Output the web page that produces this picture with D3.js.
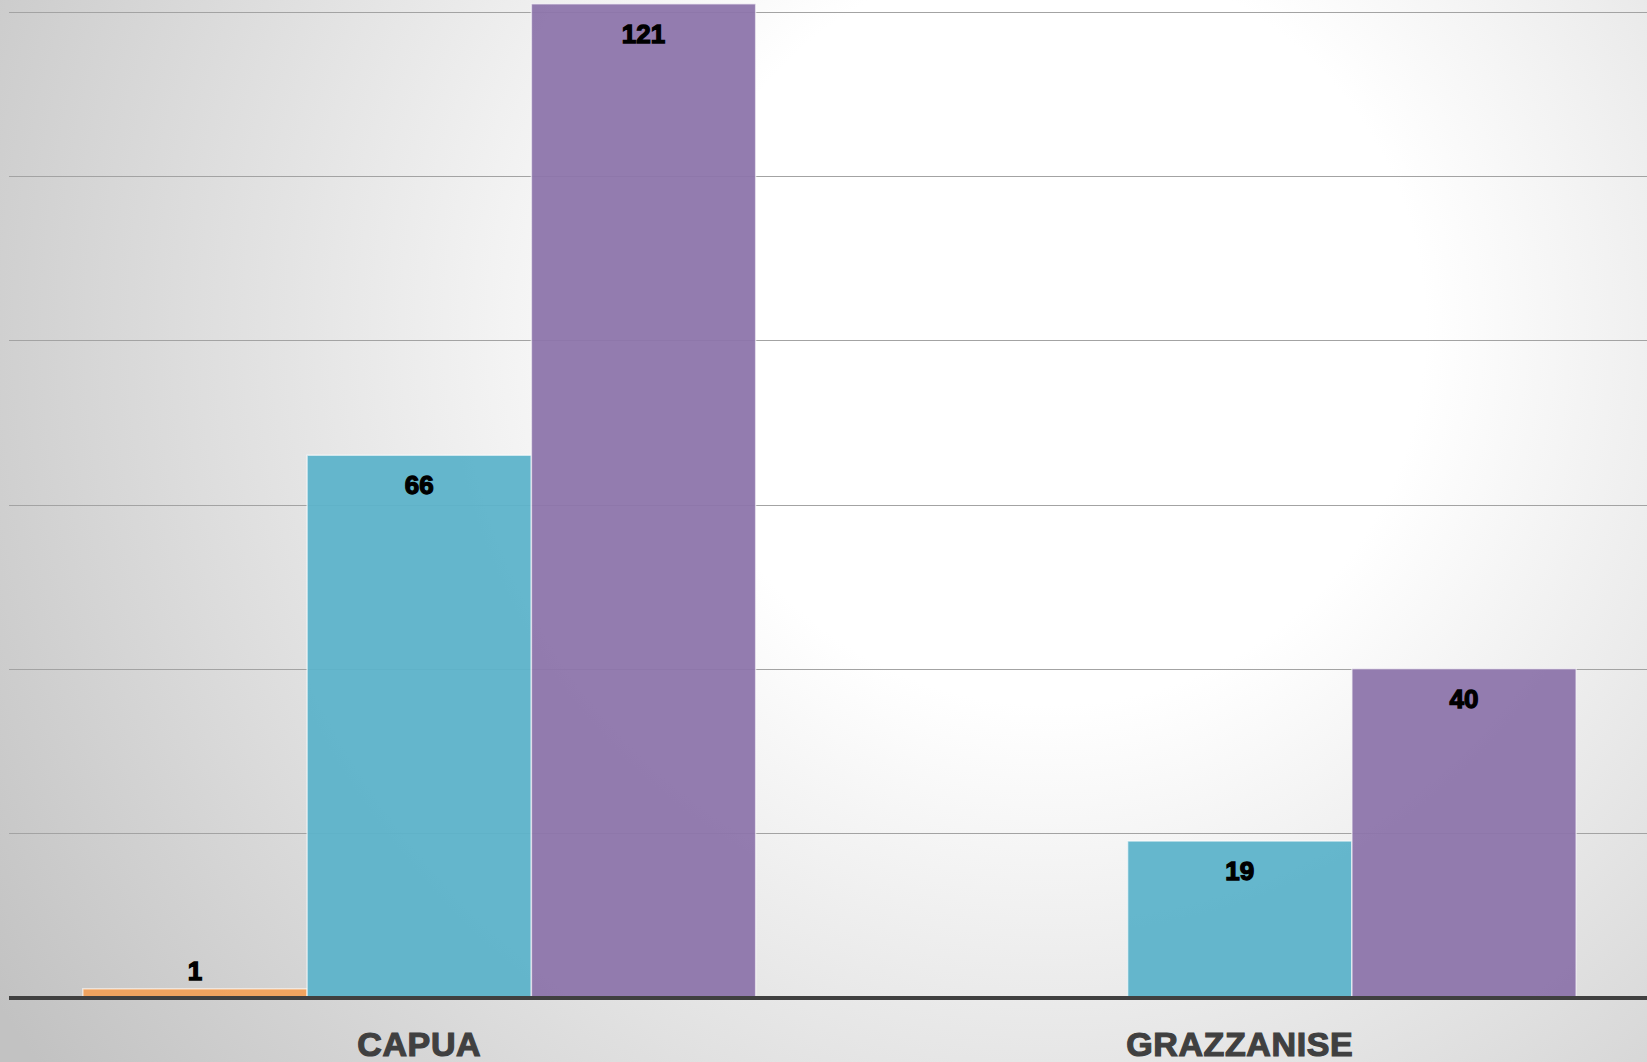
<!DOCTYPE html>
<html lang="it">
<head>
<meta charset="UTF-8">
<title>Capua / Grazzanise</title>
<script src="https://d3js.org/d3.v7.min.js"></script>
<style>
  html, body { margin: 0; padding: 0; overflow: hidden; }
  svg { display: block; }
</style>
</head>
<body>
<svg width="1647" height="1062"></svg>
<script>
// data
const categories = ["CAPUA", "GRAZZANISE"];
const seriesNames = ["Serie 1", "Serie 2", "Serie 3"];
const serie1 = [1, null];
const serie2 = [66, 19];
const serie3 = [121, 40];
const yTicks = [0, 20, 40, 60, 80, 100, 120];
const colors = ["#f2a058", "#5bb2ca", "#8c74aa"];

const W = 1647, H = 1062;
const svg = d3.select("svg");

// background: soft radial gradient
const defs = svg.append("defs");
const grad = defs.append("radialGradient")
    .attr("id", "bg")
    .attr("gradientUnits", "userSpaceOnUse")
    .attr("cx", 1050).attr("cy", 330).attr("r", 1250);
grad.append("stop").attr("offset", 0).attr("stop-color", "#ffffff");
grad.append("stop").attr("offset", 0.3).attr("stop-color", "#ffffff");
grad.append("stop").attr("offset", 1).attr("stop-color", "#c2c2c2");
svg.append("rect").attr("width", W).attr("height", H).attr("fill", "url(#bg)");

// scales
var x = d3.scaleBand().domain(categories).range([9, 1650])
    .paddingInner(0.18).paddingOuter(0.09);
var xs = d3.scaleBand().domain(seriesNames).range([0, x.bandwidth()]);
var y = d3.scaleLinear().domain([0, 120]).range([997, 12]);

// gridlines
svg.append("g")
    .selectAll("line")
    .data(yTicks.filter(d => d > 0))
    .enter()
    .append("line")
    .attr("x1", 9).attr("x2", W)
    .attr("y1", d => Math.round(y(d)) + 0.5)
    .attr("y2", d => Math.round(y(d)) + 0.5)
    .attr("stroke", "#a3a3a3")
    .attr("stroke-width", 1.2);

// bars
const table = [];
categories.forEach((c, i) => {
    [serie1, serie2, serie3].forEach((s, j) => {
        if (s[i] != null) table.push({ cat: c, serie: seriesNames[j], value: s[i], color: colors[j] });
    });
});

var g = svg.append("g");
g.selectAll("rect")
    .data(table)
    .enter()
    .append("rect")
    .attr("x", d => x(d.cat) + xs(d.serie))
    .attr("y", d => y(d.value))
    .attr("width", xs.bandwidth())
    .attr("height", d => y(0) - y(d.value))
    .attr("fill", d => d.color)
    .attr("fill-opacity", 0.94)
    .attr("stroke", "#ffffff")
    .attr("stroke-opacity", 0.6)
    .attr("stroke-width", 1.5);

// value labels
g.selectAll("text")
    .data(table)
    .enter()
    .append("text")
    .attr("x", d => x(d.cat) + xs(d.serie) + xs.bandwidth() / 2)
    .attr("y", d => (y(0) - y(d.value) > 45) ? y(d.value) + 39 : y(d.value) - 9)
    .attr("text-anchor", "middle")
    .attr("font-family", "'Liberation Sans', Arial, sans-serif")
    .attr("font-weight", "bold")
    .attr("font-size", "26px")
    .attr("fill", "#000")
    .attr("stroke", "#000")
    .attr("stroke-width", 1.3)
    .text(d => d.value);

// baseline
svg.append("line")
    .attr("x1", 9).attr("x2", W)
    .attr("y1", y(0) + 1).attr("y2", y(0) + 1)
    .attr("stroke", "#404040")
    .attr("stroke-width", 4);

// category labels
svg.append("g")
    .selectAll("text")
    .data(categories)
    .enter()
    .append("text")
    .attr("x", d => x(d) + x.bandwidth() / 2)
    .attr("y", 1056)
    .attr("text-anchor", "middle")
    .attr("font-family", "'Liberation Sans', Arial, sans-serif")
    .attr("font-weight", "bold")
    .attr("font-size", "34px")
    .attr("letter-spacing", "0.6px")
    .attr("fill", "#404040")
    .attr("stroke", "#404040")
    .attr("stroke-width", 1.2)
    .text(d => d);
</script>
</body>
</html>
